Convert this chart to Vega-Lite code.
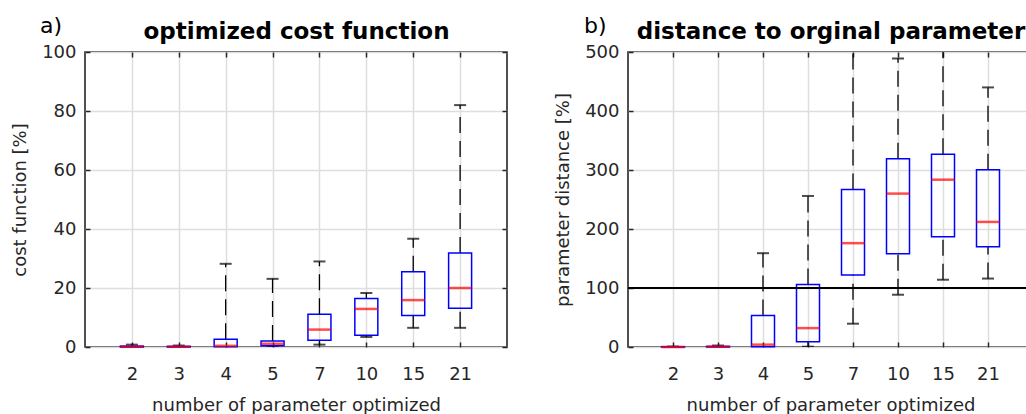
{
  "$schema": "https://vega.github.io/schema/vega-lite/v6.json",
  "padding": {"left": 10, "top": 14, "right": 0, "bottom": 0},
  "spacing": 44,
  "datasets": {
    "cost": [
      {"n": 2, "lo": 0, "q1": 0, "med": 0.1, "q3": 0.3, "hi": 0.8},
      {"n": 3, "lo": 0, "q1": 0, "med": 0.1, "q3": 0.2, "hi": 0.5},
      {"n": 4, "lo": 0, "q1": 0.1, "med": 0.4, "q3": 2.6, "hi": 28.2},
      {"n": 5, "lo": 0.2, "q1": 0.4, "med": 1.1, "q3": 2.0, "hi": 23.1},
      {"n": 7, "lo": 0.8, "q1": 2.3, "med": 5.9, "q3": 11.1, "hi": 29.0},
      {"n": 10, "lo": 3.4, "q1": 4.0, "med": 12.9, "q3": 16.4, "hi": 18.3},
      {"n": 15, "lo": 6.5, "q1": 10.7, "med": 15.9, "q3": 25.5, "hi": 36.7},
      {"n": 21, "lo": 6.5, "q1": 13.1, "med": 20.0, "q3": 31.9, "hi": 82.0}
    ],
    "dist": [
      {"n": 2, "lo": 0, "q1": 0, "med": 0, "q3": 0.5, "hi": 0.8},
      {"n": 3, "lo": 0, "q1": 0, "med": 0.5, "q3": 1, "hi": 2.5},
      {"n": 4, "lo": 0, "q1": 0.5, "med": 4, "q3": 53.5, "hi": 159},
      {"n": 5, "lo": 0.5, "q1": 9, "med": 32, "q3": 106, "hi": 256},
      {"n": 7, "lo": 39.5, "q1": 122, "med": 176, "q3": 267, "hi": 560},
      {"n": 10, "lo": 88.6, "q1": 158, "med": 260, "q3": 319, "hi": 489},
      {"n": 15, "lo": 114, "q1": 187, "med": 283.6, "q3": 326.6, "hi": 540},
      {"n": 21, "lo": 116, "q1": 170, "med": 212, "q3": 300.6, "hi": 440}
    ],
    "ref": [{"v": 100}]
  },
  "config": {
    "font": "DejaVu Sans",
    "view": {"stroke": "#262626", "strokeWidth": 1.6},
    "axis": {
      "labelFont": "DejaVu Sans", "labelFontSize": 18, "labelColor": "#262626",
      "titleFont": "DejaVu Sans", "titleFontSize": 18, "titleFontWeight": "normal", "titleColor": "#262626",
      "domain": false, "tickColor": "#262626", "tickSize": -5, "tickWidth": 1.5,
      "gridColor": "#dedede", "gridWidth": 1.5, "gridOpacity": 1,
      "labelAngle": 0, "labelFlush": false, "labelOverlap": false
    },
    "title": {"font": "DejaVu Sans", "fontSize": 22, "fontWeight": "normal", "color": "#000000"}
  },
  "hconcat": [
    {
      "width": 422, "height": 295,
      "data": {"name": "cost"},
      "title": {"text": "a)", "anchor": "start", "frame": "group", "dx": -45, "offset": -18},
      "resolve": {"axis": {"x": "independent", "y": "independent"}},
      "layer": [
        {
          "mark": {"type": "rule", "color": "#000000", "strokeWidth": 1.3, "strokeDash": [16, 8], "clip": true},
          "encoding": {
            "x": {"field": "n", "type": "ordinal", "scale": {"type": "point", "padding": 1, "domain": [2, 3, 4, 5, 7, 10, 15, 21]},
                  "axis": {"orient": "bottom", "grid": true, "title": "number of parameter optimized", "labelPadding": 23, "titlePadding": 13}},
            "y": {"field": "q3", "type": "quantitative", "scale": {"domain": [0, 100]},
                  "axis": {"orient": "left", "grid": true, "values": [0, 20, 40, 60, 80, 100], "title": "cost function [%]", "labelPadding": 14, "titlePadding": 12}},
            "y2": {"field": "hi"}
          }
        },
        {
          "mark": {"type": "rule", "color": "#000000", "strokeWidth": 1.3, "strokeDash": [16, 8], "clip": true},
          "encoding": {
            "x": {"field": "n", "type": "ordinal",
                  "axis": {"orient": "top", "grid": false, "labels": false, "title": "optimized cost function", "titleFontWeight": "bold", "titleFontSize": 23, "titleColor": "#000000", "titlePadding": 8}},
            "y": {"field": "lo", "type": "quantitative",
                  "axis": {"orient": "right", "grid": false, "labels": false, "values": [0, 20, 40, 60, 80, 100], "title": null}},
            "y2": {"field": "q1"}
          }
        },
        {
          "mark": {"type": "tick", "orient": "horizontal", "color": "#000000", "size": 12, "thickness": 2, "clip": true},
          "encoding": {"x": {"field": "n", "type": "ordinal", "axis": null}, "y": {"field": "hi", "type": "quantitative", "axis": null}}
        },
        {
          "mark": {"type": "tick", "orient": "horizontal", "color": "#000000", "size": 12, "thickness": 2, "clip": true},
          "encoding": {"x": {"field": "n", "type": "ordinal", "axis": null}, "y": {"field": "lo", "type": "quantitative", "axis": null}}
        },
        {
          "mark": {"type": "bar", "filled": false, "color": "#0000ff", "strokeWidth": 1.5, "size": 23},
          "encoding": {"x": {"field": "n", "type": "ordinal", "axis": null}, "y": {"field": "q1", "type": "quantitative", "axis": null}, "y2": {"field": "q3"}}
        },
        {
          "mark": {"type": "tick", "orient": "horizontal", "color": "#ff0000", "size": 23, "thickness": 2.5},
          "encoding": {"x": {"field": "n", "type": "ordinal", "axis": null}, "y": {"field": "med", "type": "quantitative", "axis": null}}
        }
      ]
    },
    {
      "width": 405, "height": 295,
      "data": {"name": "dist"},
      "title": {"text": "b)", "anchor": "start", "frame": "group", "dx": -44, "offset": -18},
      "resolve": {"axis": {"x": "independent", "y": "independent"}},
      "layer": [
        {
          "mark": {"type": "rule", "color": "#000000", "strokeWidth": 1.3, "strokeDash": [16, 8], "clip": true},
          "encoding": {
            "x": {"field": "n", "type": "ordinal", "scale": {"type": "point", "padding": 1, "domain": [2, 3, 4, 5, 7, 10, 15, 21]},
                  "axis": {"orient": "bottom", "grid": true, "title": "number of parameter optimized", "labelPadding": 23, "titlePadding": 13}},
            "y": {"field": "q3", "type": "quantitative", "scale": {"domain": [0, 500]},
                  "axis": {"orient": "left", "grid": true, "values": [0, 100, 200, 300, 400, 500], "title": "parameter distance [%]", "labelPadding": 14, "titlePadding": 12}},
            "y2": {"field": "hi"}
          }
        },
        {
          "mark": {"type": "rule", "color": "#000000", "strokeWidth": 1.3, "strokeDash": [16, 8], "clip": true},
          "encoding": {
            "x": {"field": "n", "type": "ordinal",
                  "axis": {"orient": "top", "grid": false, "labels": false, "title": "distance to orginal parameter", "titleFontWeight": "bold", "titleFontSize": 23, "titleColor": "#000000", "titlePadding": 8}},
            "y": {"field": "lo", "type": "quantitative",
                  "axis": {"orient": "right", "grid": false, "labels": false, "values": [0, 100, 200, 300, 400, 500], "title": null}},
            "y2": {"field": "q1"}
          }
        },
        {
          "mark": {"type": "tick", "orient": "horizontal", "color": "#000000", "size": 12, "thickness": 2, "clip": true},
          "encoding": {"x": {"field": "n", "type": "ordinal", "axis": null}, "y": {"field": "hi", "type": "quantitative", "axis": null}}
        },
        {
          "mark": {"type": "tick", "orient": "horizontal", "color": "#000000", "size": 12, "thickness": 2, "clip": true},
          "encoding": {"x": {"field": "n", "type": "ordinal", "axis": null}, "y": {"field": "lo", "type": "quantitative", "axis": null}}
        },
        {
          "mark": {"type": "bar", "filled": false, "color": "#0000ff", "strokeWidth": 1.5, "size": 23},
          "encoding": {"x": {"field": "n", "type": "ordinal", "axis": null}, "y": {"field": "q1", "type": "quantitative", "axis": null}, "y2": {"field": "q3"}}
        },
        {
          "mark": {"type": "tick", "orient": "horizontal", "color": "#ff0000", "size": 23, "thickness": 2.5},
          "encoding": {"x": {"field": "n", "type": "ordinal", "axis": null}, "y": {"field": "med", "type": "quantitative", "axis": null}}
        },
        {
          "data": {"name": "ref"},
          "mark": {"type": "rule", "color": "#000000", "strokeWidth": 2},
          "encoding": {"y": {"field": "v", "type": "quantitative", "axis": null}}
        }
      ]
    }
  ]
}
